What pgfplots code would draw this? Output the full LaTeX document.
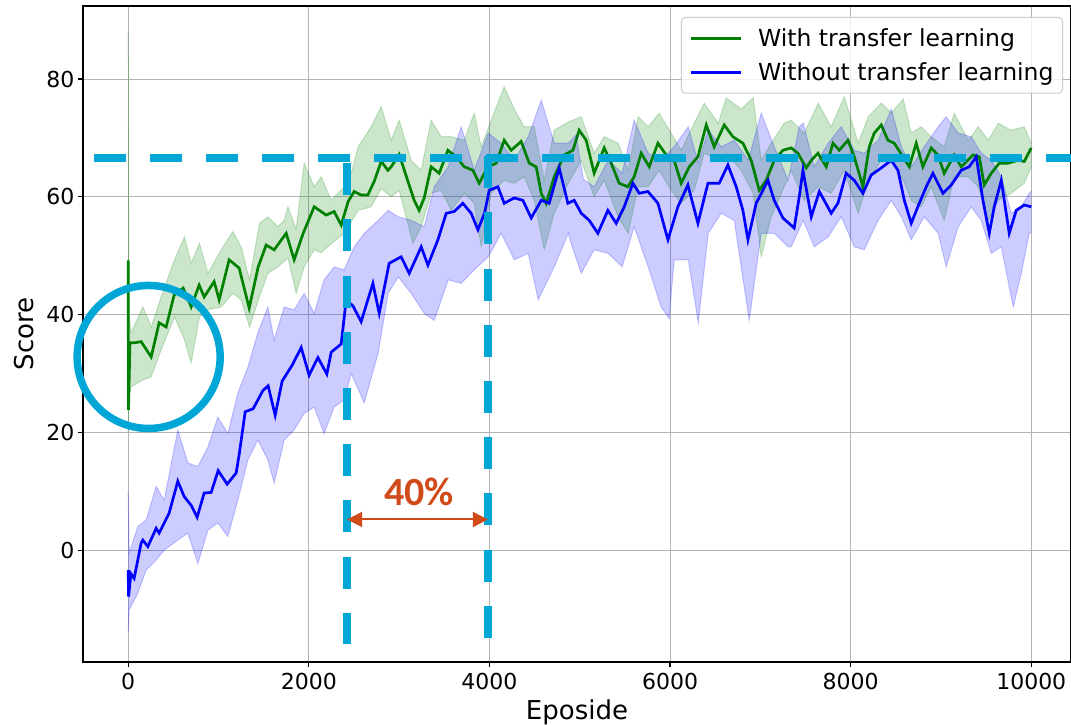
\documentclass[border=0pt]{standalone}
\usepackage{pgfplots}
\usepackage{pgfplotstable}
\usepackage{fontspec}
\setmainfont{DejaVu Sans}
\newfontfamily\calib{Carlito}
\pgfplotsset{compat=1.18}
\usepgfplotslibrary{fillbetween}
\usetikzlibrary{arrows.meta}

\definecolor{mplgreen}{RGB}{0,128,0}
\definecolor{mplblue}{RGB}{0,0,255}
\definecolor{gridgrey}{RGB}{180,180,180}
\definecolor{annocyan}{RGB}{0,166,214}
\definecolor{annored}{RGB}{208,74,26}

% mean score, with transfer learning
\pgfplotstableread{
x y
0 49.2
4 23.8
20 35.2
66 35.2
144 35.4
255 32.8
343 38.6
421 37.9
509 43.3
609 44.5
698 41.3
786 45.0
842 43.0
952 45.6
1008 42.5
1118 49.3
1229 47.9
1340 41.1
1440 48.1
1528 51.8
1617 51.0
1750 53.8
1838 49.3
1938 53.8
2060 58.3
2193 56.9
2281 57.5
2359 55.2
2436 59.2
2503 60.9
2580 60.3
2654 60.3
2724 62.6
2802 66.0
2876 64.5
2913 65.1
3001 67.2
3090 63.0
3167 59.4
3222 57.7
3278 59.8
3355 65.1
3444 64.0
3540 67.9
3632 66.8
3721 65.1
3817 64.5
3887 62.3
3983 65.1
4075 65.7
4164 69.6
4241 67.9
4352 69.4
4441 65.7
4518 65.1
4574 60.6
4629 58.9
4718 63.4
4828 67.1
4925 67.9
4994 71.3
5072 69.6
5160 64.0
5271 68.3
5349 65.7
5437 62.3
5534 61.7
5603 63.4
5681 67.4
5770 65.1
5866 69.1
5958 67.1
6046 66.2
6124 62.3
6213 65.1
6309 66.8
6401 72.2
6489 68.5
6600 72.2
6696 70.2
6807 69.1
6899 66.2
6988 61.1
7065 62.8
7154 66.2
7250 67.9
7342 68.3
7416 67.4
7508 64.9
7564 66.2
7638 67.4
7730 65.1
7804 69.1
7874 67.9
7970 69.6
8040 66.8
8136 61.7
8206 68.5
8261 70.8
8339 72.2
8413 69.6
8483 69.1
8579 66.8
8649 65.1
8726 69.1
8800 65.1
8892 68.3
8966 67.1
9036 64.0
9147 67.1
9224 65.1
9354 67.1
9424 66.8
9479 62.0
9557 64.0
9645 65.7
9742 65.7
9853 66.2
9922 66.0
10000 68.3
}\gmean

\pgfplotstableread{
x y
0 88
11 40
33 36.9
163 41.3
255 37.9
365 43.0
513 49.3
624 53.2
698 48.7
790 52.1
883 47.0
1030 51.0
1159 54.1
1251 51.5
1344 45.9
1454 55.5
1547 56.6
1658 54.9
1728 56.0
1769 58.3
1860 54.5
1949 65.7
2060 61.7
2137 63.4
2248 59.4
2392 61.7
2470 64.0
2547 68.5
2691 71.9
2802 75.3
2913 69.6
3001 73.0
3134 66.2
3245 64.5
3355 73.0
3466 70.2
3577 70.2
3721 69.6
3832 74.2
3909 68.5
4020 73.0
4164 78.7
4275 74.9
4385 71.9
4496 71.9
4607 62.8
4718 71.3
4873 72.7
5017 73.6
5160 67.4
5271 70.2
5426 69.1
5537 64.5
5648 73.6
5758 71.9
5880 74.2
6013 70.8
6124 67.9
6268 72.5
6379 75.9
6534 72.5
6622 76.8
6788 74.9
6921 76.8
7010 66.2
7121 69.1
7264 72.5
7342 73.0
7486 70.8
7641 75.9
7785 71.9
7929 77.0
8084 69.1
8195 73.6
8339 75.9
8450 74.2
8583 76.6
8671 70.8
8781 71.9
8892 70.2
9036 68.5
9147 74.2
9302 69.6
9413 71.9
9524 69.6
9634 72.5
9778 71.3
9922 71.9
10000 69.1
}\gupper

\pgfplotstableread{
x y
0 20
11 26
33 27.7
163 28.9
255 29.4
365 34.0
513 39.6
624 35.7
698 31.8
790 39.6
883 40.8
1030 41.3
1159 43.6
1251 42.5
1344 37.9
1454 43.0
1547 47.0
1658 48.1
1769 49.6
1860 43.6
1949 48.1
2060 51.0
2137 50.5
2248 52.0
2392 53.8
2547 57.7
2691 58.3
2802 61.4
2913 60.0
3001 61.1
3153 52.1
3245 54.9
3355 60.6
3466 61.1
3577 57.7
3721 60.6
3832 58.9
3909 51.5
4020 60.6
4164 62.8
4275 62.3
4385 63.4
4496 59.4
4607 51.0
4718 57.2
4873 62.3
5017 66.2
5160 60.0
5271 62.8
5426 56.6
5537 53.8
5648 61.7
5758 61.7
5880 64.5
6013 61.1
6124 58.9
6268 61.1
6379 67.4
6534 66.2
6622 67.4
6788 64.5
6921 60.6
7010 49.8
7121 56.6
7264 61.7
7342 64.5
7486 59.4
7641 61.7
7785 60.6
7929 64.5
8084 57.2
8195 62.8
8339 66.2
8450 66.2
8583 62.8
8671 59.4
8781 58.3
8892 61.7
9036 56.0
9147 63.4
9302 63.4
9413 61.7
9524 56.0
9634 59.4
9778 60.6
9922 62.3
10000 65.1
}\glower

% mean score, without transfer learning
\pgfplotstableread{
x y
0 -3.4
5 -7.9
30 -4.0
66 -4.8
144 1.2
163 1.7
218 0.6
310 3.7
343 2.9
454 6.3
550 11.7
620 9.1
698 7.6
764 5.6
842 9.7
919 9.8
997 13.5
1096 11.2
1196 13.1
1229 16.2
1296 23.5
1384 24.0
1492 27.1
1550 27.9
1628 22.9
1705 28.7
1816 31.4
1916 34.4
2004 29.7
2101 32.7
2200 29.9
2248 33.6
2359 35.0
2414 42.5
2488 41.5
2580 38.8
2654 42.5
2710 45.3
2780 40.2
2890 48.7
3023 49.8
3112 47.0
3245 51.5
3319 48.4
3430 52.7
3522 57.2
3610 57.5
3706 58.9
3798 57.2
3873 54.4
3946 57.2
3998 61.1
4094 61.7
4164 58.9
4275 59.8
4371 59.4
4463 56.4
4574 59.4
4662 58.9
4773 64.9
4869 58.9
4939 59.4
5017 57.2
5105 56.0
5201 53.8
5312 57.7
5404 55.5
5493 58.3
5589 62.3
5659 60.6
5755 60.9
5866 58.9
5977 52.7
6087 58.3
6198 62.0
6309 55.5
6420 62.3
6545 62.3
6641 65.4
6733 61.7
6807 57.7
6863 52.7
6954 58.9
7029 61.1
7084 62.8
7154 59.4
7250 56.4
7375 54.7
7431 60.0
7472 64.5
7564 56.6
7653 60.9
7785 57.2
7859 58.9
7950 64.0
8040 62.8
8136 60.6
8228 63.7
8339 64.9
8450 66.2
8524 64.5
8594 59.4
8671 55.5
8760 58.9
8837 61.7
8911 64.0
9022 60.6
9114 62.0
9224 64.5
9313 65.1
9391 66.8
9465 59.4
9535 53.8
9590 58.3
9668 62.8
9756 53.8
9834 57.7
9922 58.6
10000 58.3
}\bmean

\pgfplotstableread{
x y
0 10
11 -0.5
107 4.0
199 5.1
310 10.8
399 8.5
550 20.4
661 14.8
772 14.2
883 17.5
993 22.6
1104 19.8
1215 26.7
1326 31.1
1436 36.9
1547 41.3
1617 35.7
1728 41.3
1838 40.8
1949 43.6
2060 40.2
2170 45.9
2281 48.1
2392 47.6
2503 51.5
2614 53.8
2769 56.0
2879 57.7
2990 56.6
3134 56.0
3278 54.9
3389 61.7
3544 65.1
3688 71.9
3832 64.5
3987 70.8
4131 69.1
4275 66.2
4430 70.2
4574 76.4
4718 69.1
4873 69.1
4960 70.5
5040 63.0
5160 61.7
5315 66.2
5470 64.0
5603 73.0
5758 67.4
5902 66.2
6046 68.5
6202 71.9
6313 65.7
6423 71.3
6567 68.5
6711 69.6
6866 66.2
7010 74.2
7154 68.5
7309 62.8
7431 71.9
7475 72.5
7597 65.1
7752 69.1
7896 71.9
8040 67.9
8150 67.4
8305 69.6
8450 74.9
8561 68.5
8671 65.1
8815 68.5
8969 71.9
9058 73.6
9191 70.8
9335 70.2
9446 67.4
9557 66.2
9668 63.4
9778 57.2
9889 58.3
9978 60.6
10000 61.0
}\bupper

\pgfplotstableread{
x y
0 -14
11 -10.2
107 -7.3
199 -3.4
310 -1.7
399 0.0
550 1.7
661 2.9
772 -2.3
883 3.4
993 4.6
1104 2.3
1215 8.5
1326 15.3
1436 18.7
1547 15.3
1617 11.4
1728 18.7
1838 20.4
1949 23.2
2060 24.3
2170 19.8
2281 24.3
2392 25.5
2470 30.0
2614 25.0
2769 33.5
2879 43.6
2990 46.4
3134 43.6
3278 40.2
3389 39.0
3544 45.9
3688 45.3
3832 47.6
3987 49.8
4131 53.8
4275 49.3
4430 50.4
4540 42.5
4718 48.1
4873 53.8
4906 52.0
5017 47.0
5160 51.0
5315 50.4
5470 48.1
5603 54.9
5758 48.1
5902 41.3
5991 39.3
6046 49.3
6202 49.3
6313 38.6
6423 53.8
6567 57.2
6711 56.0
6877 39.0
7010 53.8
7154 53.8
7309 51.5
7342 51.5
7475 56.0
7597 51.5
7752 53.2
7896 56.6
8040 51.5
8150 51.0
8305 56.0
8450 59.4
8561 56.6
8671 52.7
8815 56.6
8969 53.8
9058 48.1
9191 54.9
9335 58.3
9446 56.0
9557 50.4
9668 51.5
9800 41.3
9889 47.0
9978 53.8
10000 54.0
}\blower

\begin{document}
\begin{tikzpicture}
\begin{axis}[
name=ax,
scale only axis,
width=988pt, height=656pt,
xmin=-500, xmax=10440,
ymin=-19, ymax=92.4,
xtick={0,2000,4000,6000,8000,10000},
ytick={0,20,40,60,80},
scaled ticks=false,
/pgf/number format/assume math mode=true,
xticklabel style={/pgf/number format/1000 sep={}, yshift=-3pt},
ticklabel style={font=\fontsize{22}{26}\selectfont},
label style={font=\fontsize{26}{30}\selectfont},
xlabel={Eposide},
ylabel={Score},
xlabel style={yshift=-2.5pt},
ylabel style={yshift=6pt},
grid=major,
grid style={draw=gridgrey, line width=1pt},
axis line style={draw=black, line width=1.1pt},
tick align=outside,
tick pos=left,
major tick length=5pt,
tick style={draw=black, line width=1.1pt},
clip mode=individual,
legend style={at={(1,1)}, anchor=north east, xshift=-8pt, yshift=-11pt,
  draw=black!20, line width=1pt, rounded corners=4pt,
  fill=white, fill opacity=0.8, text opacity=1, row sep=11pt,
  inner xsep=7pt, inner ysep=9pt,
  font=\fontsize{23.5}{28}\selectfont, cells={anchor=west}},
legend image code/.code={\draw[#1] (0pt,0pt) -- (50pt,0pt); \path (-1pt,0pt) (64pt,0pt);},
]
% with transfer learning: band and mean
\addplot[name path=gu, mplgreen, draw opacity=0.2, line width=1pt, forget plot] table {\gupper};
\addplot[name path=gl, mplgreen, draw opacity=0.2, line width=1pt, forget plot] table {\glower};
\addplot[fill=mplgreen, fill opacity=0.2, draw=none, forget plot] fill between[of=gu and gl];
\addplot[mplgreen, line width=2.7pt] table {\gmean};
\addlegendentry{With transfer learning}
% without transfer learning: band and mean
\addplot[name path=bu, mplblue, draw opacity=0.2, line width=1pt, forget plot] table {\bupper};
\addplot[name path=bl, mplblue, draw opacity=0.2, line width=1pt, forget plot] table {\blower};
\addplot[fill=mplblue, fill opacity=0.2, draw=none, forget plot] fill between[of=bu and bl];
\addplot[mplblue, line width=2.7pt] table {\bmean};
\addlegendentry{Without transfer learning}
% annotation lines
\addplot[annocyan, line width=8pt, dash pattern=on 32pt off 24pt, forget plot] coordinates {(-373,66.6) (10500,66.6)};
\addplot[annocyan, line width=8pt, dash pattern=on 32pt off 24.2pt, forget plot] coordinates {(2425,65.7) (2425,-16.0)};
\addplot[annocyan, line width=8pt, dash pattern=on 32pt off 24.2pt, forget plot] coordinates {(3990,66.9) (3990,-14.9)};
\draw[annocyan, line width=7.5pt] (axis cs:227,32.8) circle[radius=71.5pt];
\draw[annored, line width=2pt, {Triangle[length=15pt,width=15pt]}-{Triangle[length=15pt,width=15pt]}] (axis cs:2425,5.2) -- (axis cs:3983,5.2);
\node[text=annored, font=\calib\bfseries\fontsize{40}{40}\selectfont] at (axis cs:3219,9.9) {40\%};
\end{axis}
\pgfresetboundingbox
\path[use as bounding box] ([xshift=-83pt,yshift=-63pt]ax.south west) rectangle ([yshift=6pt]ax.north east);
\end{tikzpicture}
\end{document}
